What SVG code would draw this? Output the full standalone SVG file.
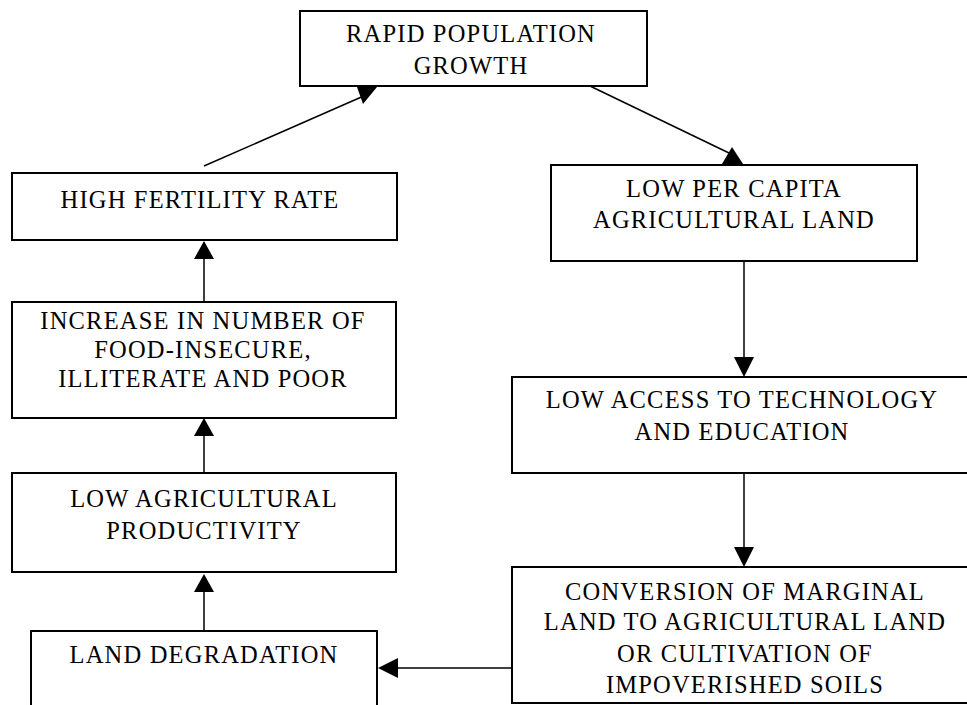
<svg xmlns="http://www.w3.org/2000/svg" width="967" height="705" viewBox="0 0 967 705">
<style>
.box{fill:#fff;stroke:#000;stroke-width:2}
.t{font-family:"Liberation Serif","Times New Roman",serif;font-size:24.5px;letter-spacing:1.2px;text-anchor:middle;fill:#000}
.c{stroke:#000;stroke-width:1.5;fill:none}
.h{fill:#000;stroke:none}
</style>
<rect width="967" height="705" fill="#fff"/>
<g id="connectors">
<line class="c" x1="204" y1="166" x2="366" y2="95"/>
<polygon class="h" points="357,87 377,87 363,104"/>
<line class="c" x1="590" y1="86" x2="729" y2="153"/>
<polygon class="h" points="732,147 722,164 743,164"/>
<line class="c" x1="204" y1="302" x2="204" y2="258"/>
<polygon class="h" points="204,241 194,259 214,259"/>
<line class="c" x1="204" y1="473" x2="204" y2="435"/>
<polygon class="h" points="204,418 194,436 214,436"/>
<line class="c" x1="204" y1="631" x2="204" y2="592"/>
<polygon class="h" points="204,574 194,592 214,592"/>
<line class="c" x1="744" y1="261" x2="744" y2="357"/>
<polygon class="h" points="744,377 734,357 754,357"/>
<line class="c" x1="744" y1="473" x2="744" y2="547"/>
<polygon class="h" points="744,567 734,547 754,547"/>
<line class="c" x1="512" y1="668" x2="397" y2="668"/>
<polygon class="h" points="378,668 398,658 398,678"/>
</g>
<g id="rapid-population-growth">
<rect class="box" x="300" y="11" width="347" height="75"/>
<text class="t" x="471" y="42">RAPID POPULATION</text>
<text class="t" x="471" y="74">GROWTH</text>
</g>
<g id="high-fertility-rate">
<rect class="box" x="12" y="173" width="385" height="67"/>
<text class="t" x="200" y="208">HIGH FERTILITY RATE</text>
</g>
<g id="increase-food-insecure">
<rect class="box" x="12" y="302" width="384" height="116"/>
<text class="t" x="203" y="329">INCREASE IN NUMBER OF</text>
<text class="t" x="203" y="358">FOOD-INSECURE,</text>
<text class="t" x="203" y="387">ILLITERATE AND POOR</text>
</g>
<g id="low-agricultural-productivity">
<rect class="box" x="12" y="473" width="384" height="99"/>
<text class="t" x="204" y="507">LOW AGRICULTURAL</text>
<text class="t" x="204" y="539">PRODUCTIVITY</text>
</g>
<g id="land-degradation">
<rect class="box" x="31" y="631" width="346" height="100"/>
<text class="t" x="204" y="663">LAND DEGRADATION</text>
</g>
<g id="low-per-capita-land">
<rect class="box" x="551" y="165" width="366" height="96"/>
<text class="t" x="734" y="197">LOW PER CAPITA</text>
<text class="t" x="734" y="228">AGRICULTURAL LAND</text>
</g>
<g id="low-access-technology">
<rect class="box" x="512" y="377" width="470" height="96"/>
<text class="t" x="742" y="408">LOW ACCESS TO TECHNOLOGY</text>
<text class="t" x="742" y="440">AND EDUCATION</text>
</g>
<g id="conversion-marginal-land">
<rect class="box" x="512" y="567" width="470" height="136"/>
<text class="t" x="745" y="600">CONVERSION OF MARGINAL</text>
<text class="t" x="745" y="630">LAND TO AGRICULTURAL LAND</text>
<text class="t" x="745" y="662">OR CULTIVATION OF</text>
<text class="t" x="745" y="693">IMPOVERISHED SOILS</text>
</g>
</svg>
